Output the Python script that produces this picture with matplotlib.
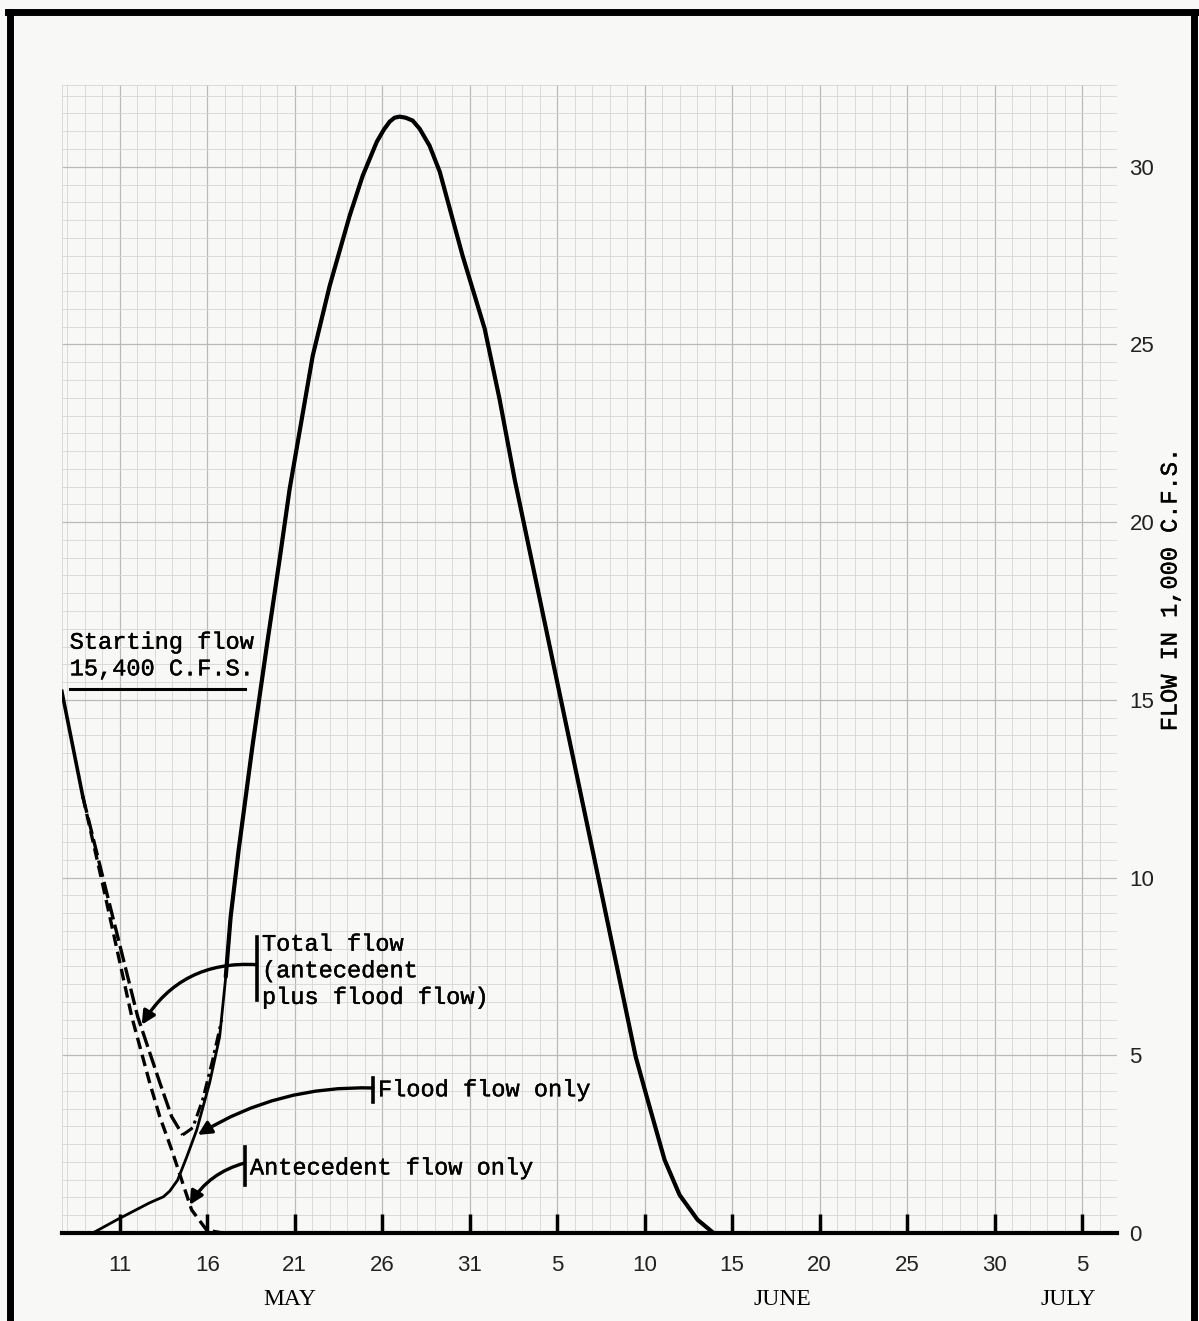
import numpy as np
import matplotlib
matplotlib.use("Agg")
import matplotlib.pyplot as plt
from matplotlib.lines import Line2D
import matplotlib.transforms as mtransforms
import matplotlib.patheffects as pe

# day numbers: May 11 = 11, June 5 = 36, July 5 = 66 ; flow in 1,000 c.f.s.
flood_day = [9.46, 10.83, 12.71, 13.5, 13.86, 14.31, 14.83, 15.4, 16.14, 16.71, 17.06, 17.34,
             17.8, 18.6, 19.46, 20.14, 20.71, 22.03, 23.0, 24.14, 24.89, 25.69, 26.09,
             26.43, 26.71, 27.0, 27.34, 27.74, 28.14, 28.71, 29.29, 30.6, 31.86, 32.71,
             33.57, 35.97, 38.14, 40.49, 41.17, 42.14, 43.0, 44.03, 44.94]
flood_cfs = [0.0, 0.37, 0.85, 1.02, 1.18, 1.49, 2.14, 2.9, 4.23, 5.52, 7.21, 8.9,
             10.79, 13.75, 16.7, 18.96, 20.93, 24.68, 26.65, 28.62, 29.75, 30.7, 31.04,
             31.27, 31.38, 31.41, 31.38, 31.3, 31.07, 30.59, 29.86, 27.49, 25.44, 23.46,
             21.21, 15.58, 10.5, 4.96, 3.75, 2.06, 1.07, 0.37, 0.0]

total_day = [7.69, 8.89, 10.14, 12.03, 13.29, 13.97, 14.6, 15.17, 15.74, 16.31, 16.83]
total_cfs = [15.24, 12.28, 9.8, 6.08, 4.23, 3.27, 2.76, 2.96, 3.75, 4.87, 6.0]

ante_day = [7.69, 8.89, 10.03, 11.69, 12.71, 13.29, 13.97, 14.54, 15.11, 15.97, 16.89]
ante_cfs = [15.24, 12.28, 9.8, 6.08, 4.23, 3.27, 2.34, 1.49, 0.65, 0.08, 0.0]

tick_days = [11, 16, 21, 26, 31, 36, 41, 46, 51, 56, 61, 66]
tick_text = ['11', '16', '21', '26', '31', '5', '10', '15', '20', '25', '30', '5']
months = [('MAY', 20.7), ('JUNE', 48.9), ('JULY', 65.2)]
flow_ticks = [0, 5, 10, 15, 20, 25, 30]

W, H = 1199, 1321
fig = plt.figure(figsize=(W / 100, H / 100), dpi=100)
fig.patch.set_facecolor('#f8f8f6')
ax = fig.add_axes([62 / W, (H - 1233) / H, (1117 - 62) / W, (1233 - 85) / H])
ax.set_facecolor('#f8f8f6')
ax.set_xlim(7.7, 68)
ax.set_ylim(0, 32.3)

# graph paper
light, dark = '#d6d6d6', '#b9b9b9'
for d in range(8, 69):
    heavy = (d - 11) % 5 == 0
    ax.axvline(d, color=dark if heavy else light, lw=0.9 if heavy else 0.6, zorder=0)
for v in np.arange(0.5, 32.3, 0.5):
    heavy = v % 5 == 0
    ax.axhline(v, color=dark if heavy else light, lw=0.9 if heavy else 0.6, zorder=0)
ax.axvline(7.7, color=light, lw=0.6, zorder=0)
ax.axhline(32.3, color=light, lw=0.6, zorder=0)

for s in ['top', 'left', 'right']:
    ax.spines[s].set_visible(False)
ax.spines['bottom'].set_linewidth(3)

mono = 'Liberation Mono'
ink = [pe.withStroke(linewidth=0.3, foreground='k')]
ax.set_xticks(tick_days)
ax.set_xticklabels(tick_text, fontsize=16, family='Liberation Sans', color='#222222')
ax.tick_params(axis='x', direction='in', length=14, width=2.5, pad=16)
ax.yaxis.tick_right()
ax.set_yticks(flow_ticks)
ax.set_yticklabels([str(v) for v in flow_ticks], fontsize=16, family='Liberation Sans', color='#222222')
ax.tick_params(axis='y', length=0, pad=9)

trans = mtransforms.blended_transform_factory(ax.transData, ax.transAxes)
for name, d in months:
    ax.text(d, -0.058, name, transform=trans, ha='center', va='center',
            fontsize=17, family='Liberation Serif', clip_on=False)

fig.text(1170 / W, 1 - 590 / H, 'FLOW IN 1,000 C.F.S.', rotation=90, ha='center',
         va='center', fontsize=17, family=mono, path_effects=ink)

# curves
fd = np.array(flood_day)
fc = np.array(flood_cfs)
ax.plot(fd, fc, color='k', lw=2.0, zorder=3, solid_joinstyle='round')
main = fd >= total_day[-1]
ax.plot(fd[main], fc[main], color='k', lw=3.0, zorder=3,
        solid_capstyle='round', solid_joinstyle='round')

ax.plot(total_day[:2], total_cfs[:2], color='k', lw=2.6, zorder=3)
imin = int(np.argmin(total_cfs))
ax.plot(total_day[1:imin + 1], total_cfs[1:imin + 1], color='k', lw=2.4,
        dashes=(5, 1.6), zorder=3)
ax.plot(total_day[imin:], total_cfs[imin:], color='k', lw=2.2,
        dashes=(4, 1.5, 1, 1.5), zorder=3)
ax.plot(ante_day[1:], ante_cfs[1:], color='k', lw=2.4, dashes=(3.5, 1.8), zorder=3)

# notes
ax.text(8.14, 15.55, 'Starting flow\n15,400 C.F.S.', fontsize=17, family=mono,
        ha='left', va='bottom', linespacing=1.2, path_effects=ink)
ax.plot([8.14, 18.14], [15.3, 15.3], color='k', lw=2.2)

callouts = [
    ('Total flow\n(antecedent\nplus flood flow)', 18.83, (6.56, 8.34), 7.55, (12.26, 5.86), 0.3, 8.45, 'top'),
    ('Flood flow only', 25.46, (3.69, 4.37), 4.08, (15.46, 2.76), 0.15, 4.03, 'center'),
    ('Antecedent flow only', 18.14, (1.35, 2.42), 1.97, (15.0, 0.79), 0.2, 1.83, 'center'),
]
for txt, bx, (b0, b1), by, tip, rad, ty, va in callouts:
    ax.plot([bx, bx], [b0, b1], color='k', lw=2.6, zorder=4)
    ax.annotate('', xy=tip, xytext=(bx, by),
                arrowprops=dict(arrowstyle='-|>', color='k', lw=2.4, mutation_scale=20,
                                shrinkA=0, shrinkB=0,
                                connectionstyle='arc3,rad=%s' % rad), zorder=4)
    ax.text(bx + 0.3, ty, txt, fontsize=17, family=mono, ha='left', va=va,
            linespacing=1.2, zorder=4, path_effects=ink)

# frame round the sheet
for xs, ys in [((8 / W, 1), (1 - 12 / H, 1 - 12 / H)),
               (((10 / W), (10 / W)), (0, 1 - 12 / H)),
               ((1194 / W, 1194 / W), (0, 1 - 12 / H))]:
    fig.add_artist(Line2D(xs, ys, color='k', lw=5))

fig.savefig('out.png', dpi=100, facecolor=fig.get_facecolor())
